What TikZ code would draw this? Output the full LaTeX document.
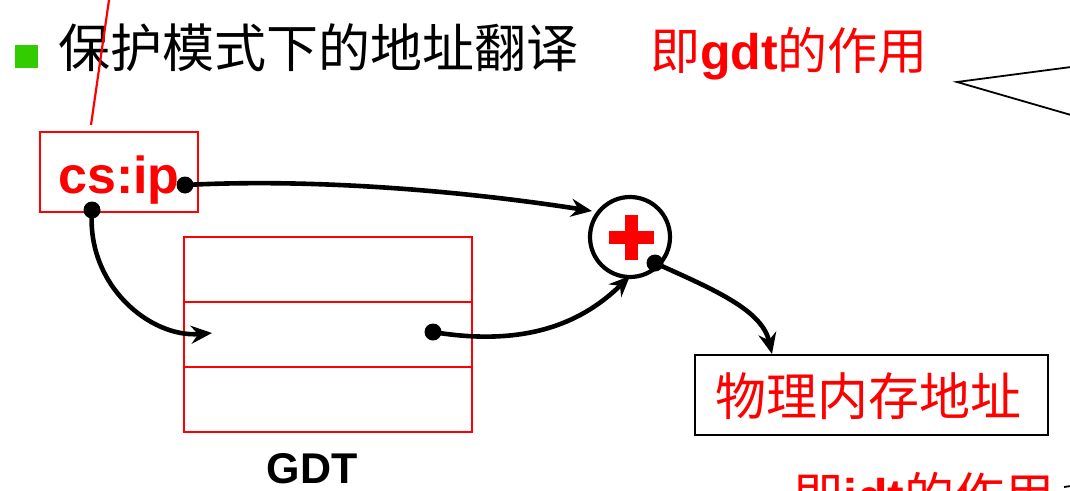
\documentclass[tikz,border=0pt]{standalone}
\usepackage{fontspec}
\setmainfont{Liberation Sans}
\newfontfamily\cjk{Noto Sans CJK SC}
\usetikzlibrary{arrows.meta}
\begin{document}
\begin{tikzpicture}[x=1pt,y=-1pt,
  conn/.style={line width=4.6pt,-{Stealth[length=21pt,width=18pt,inset=7pt]}},
  dotn/.style={circle,fill=black,inner sep=0pt,minimum size=17pt},
  redbox/.style={draw=red,line width=1.4pt,inner sep=0pt},
  redtxt/.style={text=red,inner sep=0pt},
  thinline/.style={line width=1.8pt}]
\useasboundingbox (0,0) rectangle (1070,490);
% bullet and title
\node[fill={rgb,255:red,51;green,204;blue,0},minimum width=23pt,minimum height=23pt,inner sep=0pt] (bullet) at (26.5,56.5) {};
\node[anchor=west,inner sep=0pt,font=\cjk\fontsize{52}{58}\selectfont] (title) at (58,48) {保护模式下的地址翻译};
% red slanted line
\coordinate (rl1) at (109,0);
\coordinate (rl2) at (91,125);
\draw[red,line width=2.2pt] (rl1) -- (rl2);
% top red text
\node[redtxt,anchor=west,font=\fontsize{50}{55}\selectfont] (gdtuse) at (650,54) {{\cjk 即}\textbf{gdt}{\cjk 的作用}};
% callout lines
\coordinate (c1) at (1071,67);
\coordinate (c2) at (957,82);
\coordinate (c3) at (1071,115);
\draw[thinline] (c1) -- (c2) -- (c3);
% cs:ip box
\node[redbox,minimum width=158pt,minimum height=80pt] (cs) at (119,172) {};
\node[redtxt,anchor=base,font=\bfseries\fontsize{52}{56}\selectfont] (cstext) at (119,193) {cs:ip};
% GDT
\node[redbox,minimum width=288pt,minimum height=65pt] (g1) at (328,269.5) {};
\node[redbox,minimum width=288pt,minimum height=65pt] (g2) at (328,334.5) {};
\node[redbox,minimum width=288pt,minimum height=65pt] (g3) at (328,399.5) {};
\node[anchor=base,inner sep=0pt,font=\bfseries\fontsize{43}{46}\selectfont] (gdtlab) at (312,483) {GDT};
% plus circle
\node[circle,draw,line width=4.2pt,minimum size=80pt,inner sep=0pt] (plus) at (630,237) {};
\fill[red] (609,230.5) rectangle (654,243.5);
\fill[red] (624.5,215) rectangle (637.5,260);
% physical address box
\node[draw,line width=2.4pt,minimum width=353pt,minimum height=80pt,inner sep=0pt] (phys) at (871.5,395) {};
\node[redtxt,font=\cjk\fontsize{51}{55}\selectfont] (phystext) at (868,396) {物理内存地址};
% bottom red text (cut off at the lower edge, as in the reference)
\node[redtxt,anchor=base west,font=\fontsize{50}{55}\selectfont] (idtuse) at (793,514) {{\cjk 即}\textbf{idt}{\cjk 的作用}};
\coordinate (c4) at (1064,487);
\coordinate (c5) at (1071,486);
\draw[thinline] (c4) -- (c5);
% dots
\node[dotn] (d1) at (185,185) {};
\node[dotn] (d2) at (92,210) {};
\node[dotn] (d3) at (433,332) {};
\node[dotn] (d4) at (655,263) {};
\coordinate (t1) at (592,211);
\coordinate (t2) at (212,333);
\coordinate (t3) at (630,276);
\coordinate (t4) at (772,354);
% connectors
\draw[conn] (d1.center) .. controls (320,178) and (470,192) .. (t1);
\draw[conn] (d2.center) .. controls (86,285) and (150,338) .. (t2);
\draw[conn] (d3.center) .. controls (530,348) and (585,320) .. (t3);
\draw[conn] (d4.center) .. controls (715,290) and (762,310) .. (t4);
\end{tikzpicture}
\end{document}
